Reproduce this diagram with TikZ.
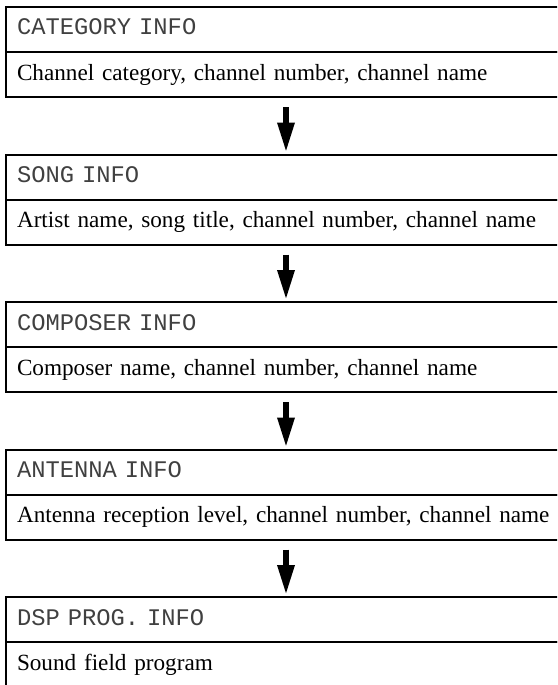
\documentclass[tikz,border=0pt]{standalone}
\usepackage{fontspec}
\setmainfont{Liberation Serif}
\newfontfamily\dotfont{Liberation Mono}
\usetikzlibrary{arrows.meta}
\begin{document}
\begin{tikzpicture}[x=1pt,y=-1pt,
  row/.style={draw, line width=2pt, outer sep=0pt, anchor=north west, minimum width=560pt,
    minimum height=45pt, text width=538pt, inner xsep=11pt, inner ysep=0pt,
    align=left, font=\fontsize{23.2}{26}\selectfont},
  hdr/.style={row, font=\dotfont\fontsize{23.8}{26}\selectfont, text=black!75},
  flow/.style={line width=6pt, -{Triangle[width=16pt,length=30pt]}}]
\useasboundingbox (0,0) rectangle (557,685);
\clip (0,0) rectangle (557,685);
\node[hdr] (h1) at (6,7) {CATEGORY INFO\vphantom{g}};
\node[row] (b1) at (h1.south west) {\mbox{Channel category, channel number, channel name}};
\node[hdr] (h2) at (6,154.5) {SONG INFO\vphantom{g}};
\node[row] (b2) at (h2.south west) {\mbox{Artist name, song title, channel number, channel name}};
\node[hdr] (h3) at (6,302) {COMPOSER INFO\vphantom{g}};
\node[row] (b3) at (h3.south west) {\mbox{Composer name, channel number, channel name}};
\node[hdr] (h4) at (6,449.5) {ANTENNA INFO\vphantom{g}};
\node[row] (b4) at (h4.south west) {\mbox{Antenna reception level, channel number, channel name}};
\node[hdr] (h5) at (6,597) {DSP PROG. INFO\vphantom{g}};
\node[row] (b5) at (h5.south west) {\mbox{Sound field program}};
\draw[flow] ([yshift=-10pt]b1.south) -- ([yshift=2pt]h2.north);
\draw[flow] ([yshift=-10pt]b2.south) -- ([yshift=2pt]h3.north);
\draw[flow] ([yshift=-10pt]b3.south) -- ([yshift=2pt]h4.north);
\draw[flow] ([yshift=-10pt]b4.south) -- ([yshift=2pt]h5.north);
\end{tikzpicture}
\end{document}
